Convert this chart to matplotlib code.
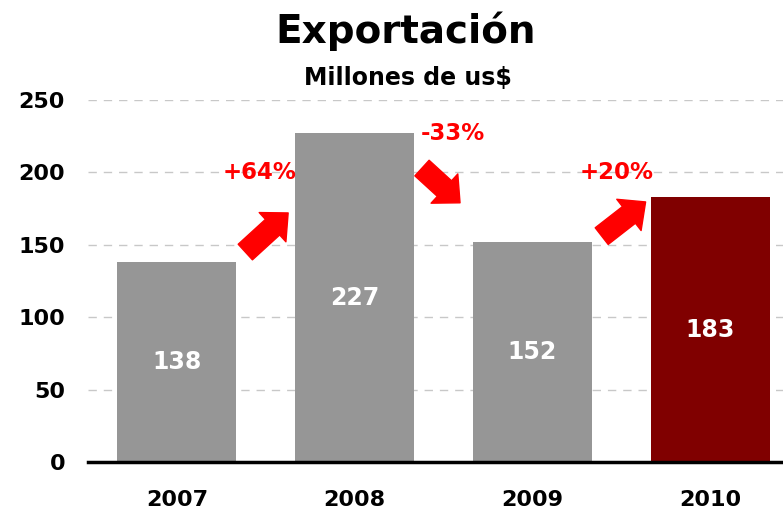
import matplotlib
matplotlib.use("Agg")
import matplotlib.pyplot as plt
from matplotlib.patches import FancyArrowPatch

years = ["2007", "2008", "2009", "2010"]
values = [138, 227, 152, 183]
colors = ["#969696", "#969696", "#969696", "#800000"]
changes = ["+64%", "-33%", "+20%"]
yticks = [0, 50, 100, 150, 200, 250]

plt.rcParams['font.family'] = ['DejaVu Sans']

fig = plt.figure(figsize=(7.83, 5.17), dpi=100)
ax = fig.add_axes([88/783, (517-462)/517, 1-88/783, 362/517])
x = list(range(len(years)))
ax.bar(x, values, width=0.67, color=colors, zorder=2)
ax.set_xlim(-0.5, 3.41)
ax.set_ylim(0, 250)
ax.set_yticks(yticks)
ax.set_xticks(x)
ax.set_xticklabels(years)
for s in ["top", "right", "left"]:
    ax.spines[s].set_visible(False)
ax.spines["bottom"].set_linewidth(2.5)
ax.spines["bottom"].set_zorder(3)
ax.tick_params(axis="both", length=0, labelsize=16)
ax.tick_params(axis="y", pad=16.5)
ax.tick_params(axis="x", pad=20)
for lab in ax.get_xticklabels() + ax.get_yticklabels():
    lab.set_fontweight("bold")
ax.yaxis.grid(True, linestyle=(0, (6, 5)), color="#c8c8c8", linewidth=1, zorder=0)
ax.set_axisbelow(True)

for xi, v in zip(x, values):
    ax.text(xi, v/2, str(v), ha="center", va="center", color="white",
            fontsize=17, fontweight="bold", zorder=4)

# change arrows and labels
arrow_specs = [
    ((0.385, 145), (0.626, 172)),
    ((1.379, 203), (1.593, 179)),
    ((2.39, 156), (2.637, 179.6)),
]
label_pos = [(0.464, 200), (1.553, 227), (2.475, 200)]
for (t, h), txt, lp in zip(arrow_specs, changes, label_pos):
    arr = FancyArrowPatch(t, h, arrowstyle="simple,head_length=0.8,head_width=1.5,tail_width=0.8",
                          mutation_scale=19, color="#ff0000", zorder=5, shrinkA=0, shrinkB=0)
    ax.add_patch(arr)
    ax.text(lp[0], lp[1], txt, ha="center", va="center", color="#ff0000",
            fontsize=16.5, fontweight="bold", zorder=5)

fig.text(406/783, 1-31/517, "Exportación", ha="center", va="center",
         fontsize=28, fontweight="bold")
fig.text(408/783, 1-78/517, "Millones de us$", ha="center", va="center",
         fontsize=17, fontweight="bold")

fig.savefig("out.png", dpi=100)
